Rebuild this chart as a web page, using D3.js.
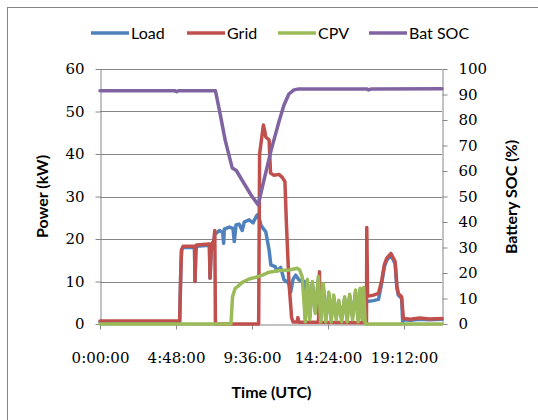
<!DOCTYPE html>
<html>
<head>
<meta charset="utf-8">
<script src="https://cdn.jsdelivr.net/npm/d3@7"></script>
<style>
  html, body { margin: 0; padding: 0; background: #fff; }
  svg { display: block; }
</style>
</head>
<body>
<svg id="chart" width="538" height="420"></svg>
<script>
// ---- data (time in hours, values in kW or %) ----
const seriesNames = ["Load", "Grid", "CPV", "Bat SOC"];
const seriesColors = ["#4F81BD", "#C0504D", "#9BBB59", "#8064A2"];

const loadData = [[0,0.5],[5.03,0.5],[5.1,12],[5.15,17.3],[5.25,18],[5.97,18],[6.0,10],[6.05,17],[6.09,18.3],[6.91,18.5],[6.95,10.8],[7.02,17],[7.08,18.8],[7.2,19.5],[7.25,21.5],[7.33,21.3],[7.54,22],[7.75,21.5],[7.81,19],[7.85,22.3],[8.17,22.8],[8.4,22.5],[8.48,19.4],[8.59,23.3],[8.79,23.5],[8.98,22],[9.11,24],[9.42,24.5],[9.67,23.8],[9.88,25.4],[9.99,25.8],[10.16,23.3],[10.3,22.5],[10.47,21.7],[10.68,17.4],[10.79,13.9],[11.06,13.5],[11.2,12.5],[11.41,13.3],[11.62,10.4],[11.93,9.6],[12.04,7.5],[12.19,10.5],[12.36,11.5],[12.56,10.4],[12.9,10],[12.97,1.2],[13.10,10],[13.25,1.8],[13.41,9.5],[13.60,3],[13.79,10.5],[13.94,1.2],[14.10,9],[14.26,1.2],[14.45,7],[14.60,1.2],[14.76,6.3],[14.92,1.8],[15.08,5.2],[15.26,1.2],[15.45,6],[15.61,1.2],[15.77,6.6],[15.95,1.8],[16.14,7.5],[16.30,1.2],[16.43,8],[16.55,1.8],[16.65,8.2],[16.75,4.5],[16.85,5.3],[17.27,5.5],[17.59,5.8],[17.8,9.8],[17.96,13.5],[18.11,15],[18.38,16.2],[18.64,14.2],[18.75,8.5],[18.84,6.8],[19.05,6],[19.12,0.2],[19.16,1.0],[19.6,0.9],[20.2,1.1],[20.8,1.0],[21.6,1.1]];

const gridData = [[0,0.7],[5.03,0.7],[5.1,12],[5.15,17.5],[5.25,18.3],[5.97,18.3],[6.0,10],[6.05,17],[6.09,18.6],[6.91,18.8],[6.95,10.8],[7.02,17],[7.08,19],[7.2,19.5],[7.25,22],[7.29,0],[10.02,0],[10.08,40],[10.32,46.8],[10.4,45.5],[10.47,44],[10.68,43.3],[10.77,35.5],[10.99,35],[11.3,35.2],[11.51,34.5],[11.68,33.5],[11.77,24],[11.93,10],[12.1,1.5],[12.19,0.5],[12.45,0.5],[12.5,1.5],[12.55,0.4],[13.8,0.4],[13.86,12.3],[13.92,0.4],[16.83,0.3],[16.85,22.7],[16.9,6.5],[17.27,6.8],[17.59,7.2],[17.8,10.4],[17.96,14],[18.11,15.5],[18.38,16.6],[18.64,14.7],[18.75,9],[18.84,7.2],[19.05,6.4],[19.16,1.3],[19.6,1.1],[20.2,1.4],[20.8,1.2],[21.6,1.3]];

const cpvData = [[0,0],[8.27,0],[8.32,3],[8.37,6.4],[8.54,8.4],[8.69,8.8],[8.98,9.8],[9.42,10.6],[9.86,11],[10.26,11.5],[10.68,12.2],[11.31,12.6],[11.93,12.7],[12.46,13.1],[12.61,12.7],[12.77,11.1],[12.97,0.5],[13.10,10.5],[13.25,1],[13.41,10],[13.60,2.5],[13.79,11.2],[13.94,0.5],[14.10,9.5],[14.26,0.5],[14.45,7.5],[14.60,0.5],[14.76,6.8],[14.92,1],[15.08,5.6],[15.26,0.5],[15.45,6.4],[15.61,0.5],[15.77,7],[15.95,1],[16.14,8],[16.30,0.5],[16.43,8.4],[16.55,1],[16.65,8.6],[16.75,0],[21.6,0]];

const socData = [[0,91.5],[4.71,91.5],[4.84,91.1],[4.96,91.5],[7.29,91.5],[7.54,83.9],[7.91,72],[8.35,61.2],[8.61,60.2],[9.11,55],[9.55,50.5],[9.99,46.7],[10.36,56.5],[10.8,68],[11.31,79.5],[11.62,85.9],[11.93,90.2],[12.25,91.8],[12.56,92.2],[16.83,92.2],[16.96,91.8],[17.15,92.2],[21.6,92.3]];

const xTickHours = [0, 4.8, 9.6, 14.4, 19.2];
const xTickLabels = ["0:00:00", "4:48:00", "9:36:00", "14:24:00", "19:12:00"];
const powerTicks = [0, 10, 20, 30, 40, 50, 60];
const socTicks = [0, 10, 20, 30, 40, 50, 60, 70, 80, 90, 100];
const xTitle = "Time (UTC)";
const yTitle = "Power (kW)";
const y2Title = "Battery SOC (%)";

// ---- layout ----
const svg = d3.select("#chart");
const L = 100, R = 442, T = 69, B = 324;
const gray = "#868686";
const tickFont = "'DejaVu Serif', serif";
const labelFont = "Lato, 'Open Sans', sans-serif";
const lw = 3.5;

const x = d3.scaleLinear().domain([0, 21.6]).range([L, R]);
const y = d3.scaleLinear().domain([0, 60]).range([B, T]);
const y2 = d3.scaleLinear().domain([0, 100]).range([B, T]);

// outer chart border
svg.append("rect").attr("x", 7.5).attr("y", 7.5).attr("width", 600).attr("height", 600)
  .attr("fill", "none").attr("stroke", gray).attr("stroke-width", 1);

// gridlines
svg.append("g").selectAll("line").data(powerTicks.filter(d => d > 0)).join("line")
  .attr("x1", L).attr("x2", R)
  .attr("y1", d => Math.round(y(d)) + 0.5).attr("y2", d => Math.round(y(d)) + 0.5)
  .attr("stroke", gray).attr("stroke-width", 1);

// axes
function styleAxis(g) {
  g.selectAll(".domain").attr("stroke", gray).attr("stroke-width", 1);
  g.selectAll(".tick line").attr("stroke", gray);
  g.selectAll(".tick text").attr("fill", "#000").style("font-family", tickFont).style("font-size", "15px");
}
const gx = svg.append("g").attr("transform", `translate(0,${B + 0.5})`)
  .call(d3.axisBottom(x).tickValues(xTickHours).tickSize(5).tickSizeOuter(0)
    .tickFormat((d, i) => xTickLabels[i]));
styleAxis(gx);
gx.selectAll(".tick text").attr("dy", "0").attr("y", 38);

const gy = svg.append("g").attr("transform", `translate(${L + 0.5},0)`)
  .call(d3.axisLeft(y).tickValues(powerTicks).tickSize(5).tickSizeOuter(0));
styleAxis(gy);
gy.selectAll(".tick text").attr("x", -16);

const gy2 = svg.append("g").attr("transform", `translate(${R + 0.5},0)`)
  .call(d3.axisRight(y2).tickValues(socTicks).tickSize(5).tickSizeOuter(0));
styleAxis(gy2);
gy2.selectAll(".tick text").attr("x", 16);

// series
const line = d3.line().x(d => x(d[0])).y(d => y(d[1]));
const line2 = d3.line().x(d => x(d[0])).y(d => y2(d[1]));
const seriesData = [loadData, gridData, cpvData];
seriesData.forEach((data, i) => {
  svg.append("path").datum(data).attr("d", line)
    .attr("fill", "none").attr("stroke", seriesColors[i]).attr("stroke-width", lw)
    .attr("stroke-linejoin", "round").attr("stroke-linecap", "round");
});
svg.append("path").datum(socData).attr("d", line2)
  .attr("fill", "none").attr("stroke", seriesColors[3]).attr("stroke-width", lw)
  .attr("stroke-linejoin", "round").attr("stroke-linecap", "round");

// legend
const legendX = [91, 187, 278, 369];
const lg = svg.append("g");
seriesNames.forEach((name, i) => {
  lg.append("line").attr("x1", legendX[i]).attr("x2", legendX[i] + 38)
    .attr("y1", 33).attr("y2", 33).attr("stroke", seriesColors[i]).attr("stroke-width", lw);
  lg.append("text").attr("x", legendX[i] + 40).attr("y", 33).attr("dy", "0.35em")
    .style("font-family", labelFont).style("font-size", "16px").attr("fill", "#000").text(name);
});

// titles
svg.append("text").attr("x", 271.5).attr("y", 392).attr("dy", "0.35em").attr("text-anchor", "middle")
  .style("font-family", labelFont).style("font-size", "16px").style("font-weight", "bold").text(xTitle);
svg.append("text").attr("transform", "translate(42.5,196.5) rotate(-90)").attr("dy", "0.35em")
  .attr("text-anchor", "middle")
  .style("font-family", labelFont).style("font-size", "16px").style("font-weight", "bold").text(yTitle);
svg.append("text").attr("transform", "translate(511.5,197) rotate(-90)").attr("dy", "0.35em")
  .attr("text-anchor", "middle")
  .style("font-family", labelFont).style("font-size", "16px").style("font-weight", "bold").text(y2Title);
</script>
</body>
</html>
